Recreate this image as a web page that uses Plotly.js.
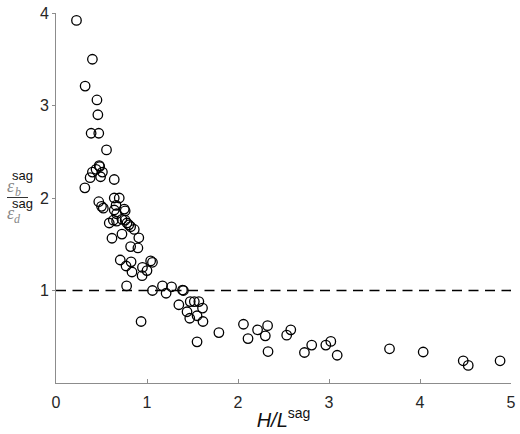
<!DOCTYPE html>
<html>
<head>
<meta charset="utf-8">
<script src="https://cdn.plot.ly/plotly-3.0.1.min.js"></script>
<style>html,body{margin:0;padding:0;background:#fff;}#chart{width:520px;height:434px;}</style>
</head>
<body>
<div id="chart"></div>
<script>
// H/L^sag values
const ratioHL = [
  0.225, 0.40, 0.32, 0.45, 0.46, 0.386, 0.47, 0.555, 0.317, 0.375,
  0.40, 0.44, 0.475, 0.48, 0.49, 0.51, 0.64, 0.47, 0.50, 0.52,
  0.64, 0.695, 0.66, 0.64, 0.75, 0.76, 0.666, 0.63, 0.585, 0.666,
  0.725, 0.76, 0.78, 0.80, 0.82, 0.86, 0.91, 0.615, 0.725, 0.82,
  0.90, 0.706, 0.825, 0.77, 0.835, 0.95, 0.946, 1.00, 1.04, 1.06,
  0.776, 0.935, 1.06, 1.17, 1.21, 1.27, 1.39, 1.40, 1.35, 1.44,
  1.47, 1.475, 1.52, 1.57, 1.61, 1.55, 1.615, 1.55, 1.79, 2.06,
  2.11, 2.215, 2.325, 2.30, 2.33, 2.535, 2.58, 2.73, 2.81, 2.965,
  3.02, 3.09, 3.665, 4.035, 4.475, 4.53, 4.88
];
// eps_b^sag / eps_d^sag values
const strainRatio = [
  3.92, 3.50, 3.21, 3.06, 2.90, 2.70, 2.70, 2.52, 2.11, 2.22,
  2.28, 2.31, 2.35, 2.34, 2.23, 2.28, 2.20, 1.96, 1.91, 1.89,
  2.00, 2.00, 1.92, 1.87, 1.88, 1.86, 1.83, 1.76, 1.73, 1.75,
  1.77, 1.76, 1.73, 1.71, 1.69, 1.66, 1.57, 1.565, 1.61, 1.475,
  1.46, 1.33, 1.31, 1.265, 1.20, 1.25, 1.16, 1.215, 1.32, 1.305,
  1.05, 0.665, 1.00, 1.05, 0.97, 1.04, 1.005, 1.00, 0.846, 0.77,
  0.70, 0.88, 0.88, 0.88, 0.81, 0.727, 0.665, 0.445, 0.545, 0.635,
  0.48, 0.575, 0.62, 0.51, 0.34, 0.517, 0.575, 0.33, 0.41, 0.41,
  0.45, 0.30, 0.37, 0.335, 0.24, 0.19, 0.24
];
const xTicks = [0, 1, 2, 3, 4, 5];
const yTicks = [1, 2, 3, 4];
const refLevel = [1];

const L = 56, R = 9, T = 13, B = 51;
const W = 520 - L - R, H = 434 - T - B;
const px = x => (x - L) / W;
const py = y => (434 - B - y) / H;

const trace = {
  x: ratioHL, y: strainRatio, type: 'scatter', mode: 'markers',
  marker: {symbol: 'circle-open', size: 9.5, color: '#000', line: {width: 1.3, color: '#000'}},
  hoverinfo: 'skip', showlegend: false
};

const serif = 'Liberation Serif, DejaVu Serif, serif';
const sans = 'Liberation Sans, Arial, sans-serif';
const annotations = [
  {xref: 'paper', yref: 'paper', x: px(11), y: py(186), text: '<i>ε</i>', showarrow: false,
   font: {family: serif, size: 18, color: '#888'}, xanchor: 'center', yanchor: 'middle'},
  {xref: 'paper', yref: 'paper', x: px(17.5), y: py(192), text: '<i>b</i>', showarrow: false,
   font: {family: serif, size: 12, color: '#888'}, xanchor: 'center', yanchor: 'middle'},
  {xref: 'paper', yref: 'paper', x: px(22), y: py(175), text: 'sag', showarrow: false,
   font: {family: sans, size: 13, color: '#111'}, xanchor: 'center', yanchor: 'middle'},
  {xref: 'paper', yref: 'paper', x: px(22), y: py(203), text: 'sag', showarrow: false,
   font: {family: sans, size: 13, color: '#111'}, xanchor: 'center', yanchor: 'middle'},
  {xref: 'paper', yref: 'paper', x: px(11), y: py(213), text: '<i>ε</i>', showarrow: false,
   font: {family: serif, size: 18, color: '#888'}, xanchor: 'center', yanchor: 'middle'},
  {xref: 'paper', yref: 'paper', x: px(17.5), y: py(219), text: '<i>d</i>', showarrow: false,
   font: {family: serif, size: 12, color: '#888'}, xanchor: 'center', yanchor: 'middle'}
];

const layout = {
  width: 520, height: 434,
  margin: {l: L, r: R, t: T, b: B},
  paper_bgcolor: '#fff', plot_bgcolor: '#fff',
  font: {family: sans, size: 15, color: '#262626'},
  xaxis: {
    range: [0, 5], tickvals: xTicks, ticktext: xTicks.map(String),
    showgrid: false, zeroline: false, showline: true, linecolor: '#8c8c8c', linewidth: 1,
    ticks: 'inside', ticklen: 4, tickcolor: '#8c8c8c', ticklabelstandoff: 5,
    tickfont: {family: sans, size: 16, color: '#262626'},
    title: {text: '<i>H/L</i><sup>sag</sup>', font: {family: sans, size: 20, color: '#111'}, standoff: 2}
  },
  yaxis: {
    range: [0, 4], tickvals: yTicks, ticktext: yTicks.map(String),
    showgrid: false, zeroline: false, showline: true, linecolor: '#8c8c8c', linewidth: 1,
    ticks: 'outside', ticklen: 3, tickcolor: '#8c8c8c',
    tickfont: {family: sans, size: 16, color: '#262626'}
  },
  shapes: [
    {type: 'line', xref: 'x', yref: 'y', x0: 0, x1: 5, y0: refLevel[0], y1: refLevel[0],
     line: {color: '#000', width: 1.6, dash: '10px,6.5px'}},
    {type: 'line', xref: 'paper', yref: 'paper', x0: px(7), x1: px(28), y0: py(197.5), y1: py(197.5),
     line: {color: '#333', width: 1}}
  ],
  annotations: annotations
};

Plotly.newPlot('chart', [trace], layout, {displayModeBar: false, staticPlot: true});
</script>
</body>
</html>
